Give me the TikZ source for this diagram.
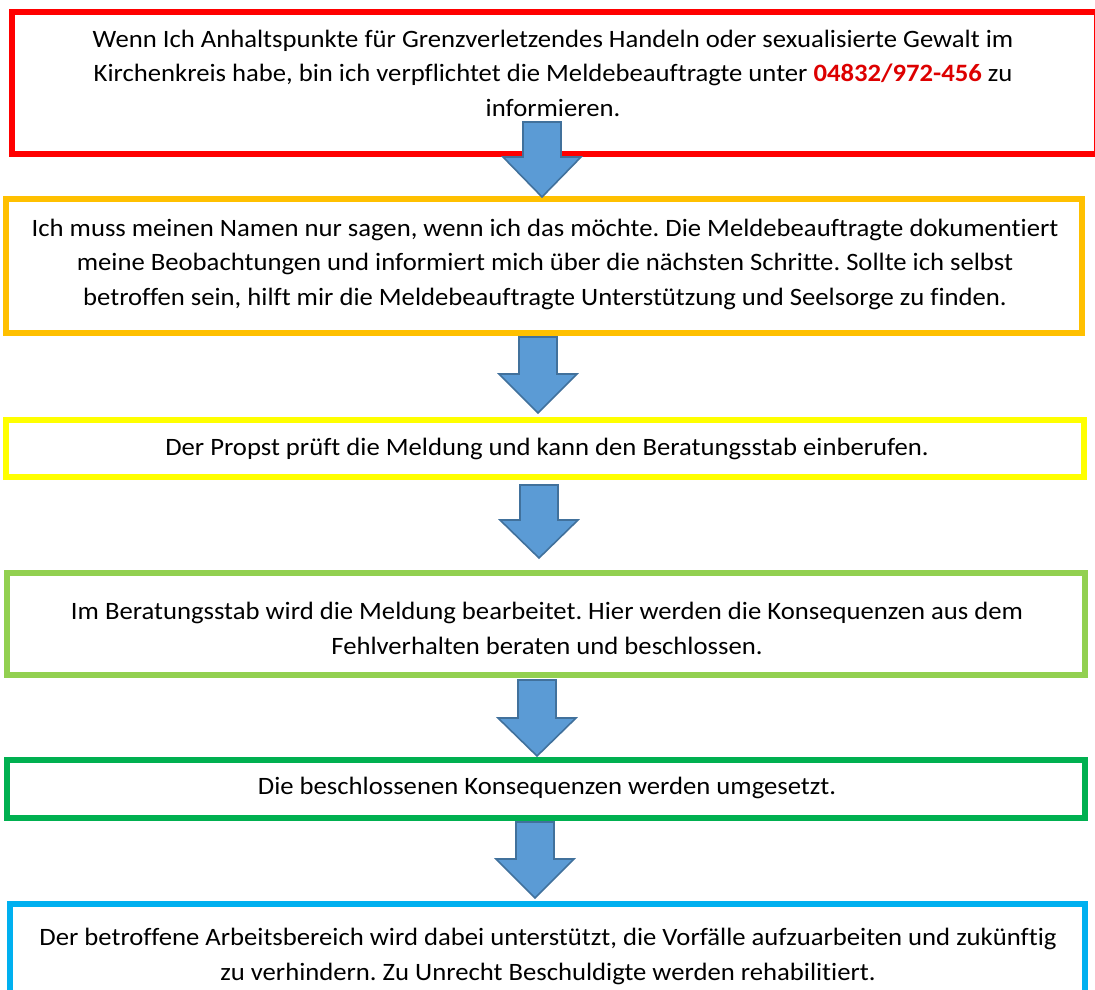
\documentclass[tikz,border=0pt]{standalone}
\usepackage{fontspec}
\setmainfont{Carlito}[FakeStretch=1.067,Ligatures=CommonOff]
\begin{document}
\frenchspacing
\begin{tikzpicture}[x=1pt,y=-1pt,
  box/.style={draw=#1,line width=6pt,fill=white,inner sep=0pt,rectangle},
  txt/.style={align=center,inner sep=0pt,anchor=base,font=\fontsize{25}{34.5}\selectfont},
  blockarrow/.style={fill=arrowfill,draw=arrowline,line width=1.6pt,line join=miter}]
\definecolor{cred}{HTML}{FF0000}
\definecolor{corange}{HTML}{FFC000}
\definecolor{cyellow}{HTML}{FFFF00}
\definecolor{clgreen}{HTML}{92D050}
\definecolor{cgreen}{HTML}{00B050}
\definecolor{cblue}{HTML}{00B0F0}
\definecolor{phone}{HTML}{DD0000}
\definecolor{arrowfill}{HTML}{5B9BD5}
\definecolor{arrowline}{HTML}{41719C}
\newcommand\blockarr[5]{%
  \draw[blockarrow] (#2-19,#3) -- (#2+19,#3) -- (#2+19,#4) -- (#2+39,#4) -- (#2,#5)
    coordinate (#1) -- (#2-39,#4) -- (#2-19,#4) -- cycle;}
\clip (0,0) rectangle (1095,990);
\fill[white] (0,0) rectangle (1095,990);
% boxes
\node[box=cred,minimum width=1085pt,minimum height=141.5pt] (b1) at (554.5,83) {};
\node[box=corange,minimum width=1076pt,minimum height=134pt] (b2) at (544,266) {};
\node[box=cyellow,minimum width=1078pt,minimum height=57pt] (b3) at (545,448.5) {};
\node[box=clgreen,minimum width=1078pt,minimum height=102pt] (b4) at (546,624) {};
\node[box=cgreen,minimum width=1078pt,minimum height=58pt] (b5) at (546,789) {};
\node[box=cblue,minimum width=1075pt,minimum height=96pt] (b6) at (547.5,952) {};
% texts (base anchor = baseline of the last line)
\node[txt] (t1) at (553,116) {Wenn Ich Anhaltspunkte für Grenzverletzendes Handeln oder sexualisierte Gewalt im\\
Kirchenkreis habe, bin ich verpflichtet die Meldebeauftragte unter {\bfseries\color{phone}04832/972-456} zu\\
informieren.};
\node[txt] (t2) at (545,305) {Ich muss meinen Namen nur sagen, wenn ich das möchte. Die Meldebeauftragte dokumentiert\\
meine Beobachtungen und informiert mich über die nächsten Schritte. Sollte ich selbst\\
betroffen sein, hilft mir die Meldebeauftragte Unterstützung und Seelsorge zu finden.};
\node[txt] (t3) at (547,455) {Der Propst prüft die Meldung und kann den Beratungsstab einberufen.};
\node[txt] (t4) at (547,654) {Im Beratungsstab wird die Meldung bearbeitet. Hier werden die Konsequenzen aus dem\\
Fehlverhalten beraten und beschlossen.};
\node[txt] (t5) at (547,794) {Die beschlossenen Konsequenzen werden umgesetzt.};
\node[txt] (t6) at (548,980) {Der betroffene Arbeitsbereich wird dabei unterstützt, die Vorfälle aufzuarbeiten und zukünftig\\
zu verhindern. Zu Unrecht Beschuldigte werden rehabilitiert.};
% block arrows between boxes
\blockarr{a1}{542}{122}{157}{197}
\blockarr{a2}{538}{337}{374}{413}
\blockarr{a3}{539}{485}{520}{558}
\blockarr{a4}{537}{680}{718}{756}
\blockarr{a5}{535}{822}{859}{898}
\end{tikzpicture}
\end{document}
